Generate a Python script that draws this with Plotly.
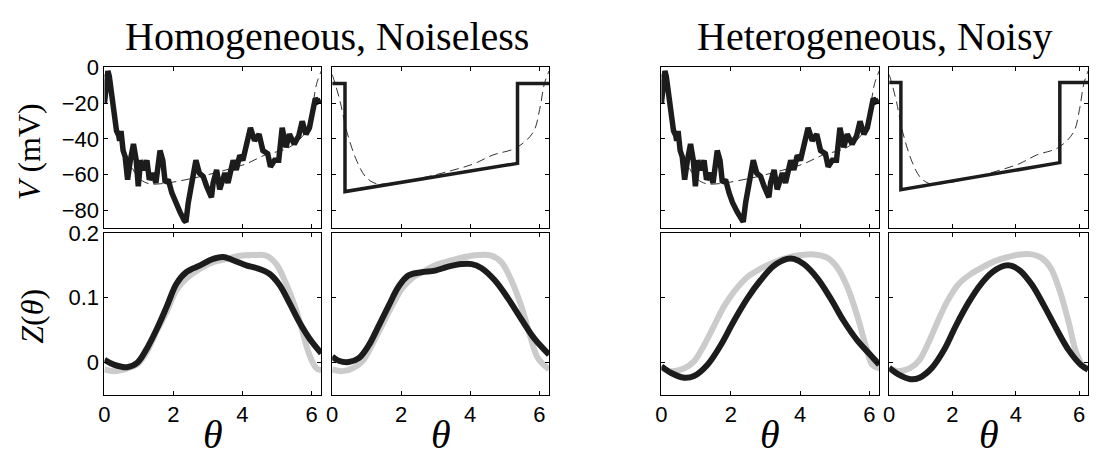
import math
import plotly.graph_objects as go

TWO_PI = 2 * math.pi

# ---------------- data ----------------
# noisy voltage trace (cols 1 and 3)
noisy_theta = [0.00, 0.05, 0.10, 0.14, 0.22, 0.29, 0.35, 0.41, 0.44, 0.48, 0.54, 0.60, 0.67, 0.75,
               0.84, 0.92, 0.98, 1.05, 1.13, 1.23, 1.30, 1.40, 1.49, 1.61, 1.69, 1.76, 1.85, 1.95,
               2.05, 2.19, 2.31, 2.36, 2.43, 2.50, 2.57, 2.65, 2.75, 2.86, 2.96, 3.05, 3.10, 3.15,
               3.25, 3.34, 3.49, 3.58, 3.73, 3.82, 3.92, 4.01, 4.11, 4.23, 4.35, 4.48, 4.59, 4.73,
               4.81, 4.93, 5.05, 5.15, 5.26, 5.36, 5.50, 5.63, 5.73, 5.84, 5.94, 6.03, 6.11, 6.18, 6.27]
noisy_v = [-20, -8, -2, -5, -15.6, -28.3, -35.6, -38, -41, -35.6, -46.5, -50, -62.8, -52,
           -42.9, -52, -66.5, -52, -57.4, -52, -62.8, -59.2, -64.6, -46.5, -52, -64.6, -62.8, -70.1,
           -75.6, -81, -85.6, -86.5, -75.6, -68.3, -59.2, -52, -59.2, -61, -66.5, -70, -72.7, -64.6,
           -57.4, -68.3, -59.2, -64.6, -52, -57.4, -49.2, -52, -44.7, -33.8, -41, -37.4, -46.5, -48.3,
           -55.6, -52, -52, -33.8, -44.7, -37.4, -42.9, -38.3, -30.2, -37.4, -33.8, -24.7, -17.4, -19.2, -18.3]

# thin dashed reference voltage
dash_theta = [0, 0.10, 0.24, 0.43, 0.72, 0.98, 1.27, 1.70, 2.16, 2.80, 3.50, 4.10, 4.66, 5.33,
              5.82, 6.01, 6.15, TWO_PI]
dash_v = [-4, -10, -20, -36.4, -52.7, -61.5, -65, -65, -63.6, -61, -57.5, -54, -49, -45,
          -36.4, -23.6, -9, -2]

# step-like voltage (cols 2 and 4)
step2_theta = [0, 0.37, 0.37, 5.37, 5.37, TWO_PI]
step2_v = [-9, -9, -69.5, -53.7, -9, -9]
step4_theta = [0, 0.37, 0.37, 5.39, 5.39, TWO_PI]
step4_v = [-8.5, -8.5, -68.5, -53.3, -8.5, -8.5]

# PRC curves
z1_black_t = [0.0, 0.27, 0.65, 0.94, 1.23, 1.52, 1.81, 2.09, 2.38, 2.77, 3.15, 3.44, 3.73, 4.11,
              4.40, 4.78, 5.07, 5.36, 5.65, 5.94, TWO_PI]
z1_black = [0.004, -0.0035, -0.0075, -0.001, 0.0216, 0.052, 0.087, 0.122, 0.140, 0.150, 0.160,
            0.163, 0.158, 0.150, 0.146, 0.137, 0.120, 0.092, 0.062, 0.037, 0.014]
z1_gray_t = [0.0, 0.27, 0.65, 0.94, 1.23, 1.52, 1.81, 2.09, 2.38, 2.77, 3.15, 3.54, 3.92, 4.30,
             4.69, 4.98, 5.26, 5.55, 5.74, 5.94, 6.13, TWO_PI]
z1_gray = [-0.011, -0.0135, -0.0095, -0.0035, 0.0166, 0.049, 0.079, 0.112, 0.130, 0.145, 0.155,
           0.160, 0.165, 0.166, 0.165, 0.152, 0.122, 0.082, 0.047, 0.0115, -0.0085, -0.0125]

z2_black_t = [0.0, 0.19, 0.48, 0.77, 1.06, 1.35, 1.63, 1.92, 2.21, 2.59, 2.98, 3.36, 3.75, 4.04,
              4.32, 4.71, 5.09, 5.48, 5.86, TWO_PI]
z2_black = [0.009, 0.0025, 0.0005, 0.0065, 0.0266, 0.057, 0.087, 0.117, 0.1345, 0.1395, 0.142,
            0.148, 0.152, 0.152, 0.146, 0.127, 0.0994, 0.0668, 0.0366, 0.012]
z2_gray_t = [0.0, 0.29, 0.58, 0.87, 1.15, 1.44, 1.73, 2.02, 2.31, 2.69, 3.07, 3.46, 3.84, 4.23,
             4.61, 4.90, 5.19, 5.48, 5.76, 5.96, TWO_PI]
z2_gray = [-0.011, -0.0135, -0.0095, 0.0015, 0.0266, 0.057, 0.087, 0.114, 0.130, 0.142, 0.152,
           0.158, 0.163, 0.166, 0.165, 0.155, 0.127, 0.087, 0.0366, 0.0065, -0.011]

z3_black_t = [0.0, 0.27, 0.65, 0.94, 1.33, 1.71, 2.09, 2.48, 2.86, 3.25, 3.63, 3.82, 4.11, 4.50,
              4.88, 5.26, 5.65, 6.03, TWO_PI]
z3_black = [-0.006, -0.016, -0.0236, -0.021, -0.0035, 0.0266, 0.064, 0.099, 0.127, 0.1496, 0.160,
            0.160, 0.152, 0.130, 0.099, 0.064, 0.034, 0.0115, -0.0035]
z3_gray_t = [0.0, 0.27, 0.65, 0.94, 1.23, 1.52, 1.81, 2.09, 2.48, 2.86, 3.25, 3.63, 4.02, 4.40,
             4.78, 5.07, 5.36, 5.65, 5.89, 6.08, TWO_PI]
z3_gray = [-0.0085, -0.0135, -0.0095, 0.0015, 0.0266, 0.057, 0.087, 0.109, 0.132, 0.145, 0.155,
           0.162, 0.166, 0.167, 0.162, 0.147, 0.117, 0.072, 0.0266, -0.0035, -0.0095]

z4_black_t = [0.0, 0.29, 0.67, 0.96, 1.35, 1.73, 2.11, 2.50, 2.88, 3.27, 3.65, 3.84, 4.13, 4.51,
              4.90, 5.28, 5.67, 6.05, TWO_PI]
z4_black = [-0.0085, -0.0186, -0.026, -0.0236, -0.0085, 0.019, 0.057, 0.092, 0.120, 0.140, 0.1496,
            0.1496, 0.142, 0.120, 0.087, 0.052, 0.019, -0.0035, -0.011]
z4_gray_t = [0.0, 0.29, 0.67, 0.96, 1.25, 1.54, 1.83, 2.21, 2.59, 2.98, 3.36, 3.75, 4.13, 4.51,
             4.80, 5.09, 5.38, 5.67, 5.90, 6.10, TWO_PI]
z4_gray = [-0.0085, -0.0135, -0.0085, 0.004, 0.0316, 0.064, 0.094, 0.122, 0.137, 0.148, 0.157,
           0.163, 0.167, 0.167, 0.162, 0.147, 0.112, 0.062, 0.0166, -0.0035, -0.0095]

x_ticks = [0, 2, 4, 6]
v_ticks = [0, -20, -40, -60, -80]
z_ticks = [0, 0.1, 0.2]
titles = ["Homogeneous, Noiseless", "Heterogeneous, Noisy"]

# ---------------- figure ----------------
W, H = 1105, 459
col_px = [(99, 317), (328, 546), (659, 878), (888, 1088)]
row_px = [(56, 222), (227, 393)]

BLACK = "#1c1c1c"
GRAY = "#cbcbcb"
TICKFONT = dict(family="Liberation Sans, Arial", size=22, color="black")

fig = go.Figure()


def axname(i):
    return "" if i == 1 else str(i)


n = 0
for r in range(2):
    for c in range(4):
        n += 1
        x0, x1 = col_px[c]
        y0, y1 = row_px[r]
        xa = dict(domain=[x0 / W, x1 / W], range=[0, TWO_PI], tickvals=x_ticks,
                  showticklabels=(r == 1), ticks="inside", ticklen=4, tickcolor="black",
                  showline=True, linecolor="black", linewidth=1, mirror="allticks",
                  showgrid=False, zeroline=False, anchor="y" + axname(n),
                  ticklabeloverflow="allow", tickfont=TICKFONT)
        if r == 0:
            yr, yt = [-90, 0.5], v_ticks
        else:
            yr, yt = [-0.05, 0.2], z_ticks
        ya = dict(domain=[1 - y1 / H, 1 - y0 / H], range=yr, tickvals=yt,
                  showticklabels=(c == 0), ticks="inside", ticklen=4, tickcolor="black",
                  showline=True, linecolor="black", linewidth=1, mirror="allticks",
                  showgrid=False, zeroline=False, anchor="x" + axname(n),
                  ticklabeloverflow="allow", tickfont=TICKFONT)
        fig.layout["xaxis" + axname(n)] = xa
        fig.layout["yaxis" + axname(n)] = ya

        xr, yref = "x" + axname(n), "y" + axname(n)
        if r == 0:
            fig.add_trace(go.Scatter(x=dash_theta, y=dash_v, mode="lines", xaxis=xr, yaxis=yref,
                                     line=dict(color=BLACK, width=0.9, dash="9px,5px", shape="spline"),
                                     showlegend=False))
            if c in (0, 2):
                fig.add_trace(go.Scatter(x=noisy_theta, y=noisy_v, mode="lines", xaxis=xr, yaxis=yref,
                                         line=dict(color=BLACK, width=5.5), showlegend=False))
            else:
                st, sv = (step2_theta, step2_v) if c == 1 else (step4_theta, step4_v)
                fig.add_trace(go.Scatter(x=st, y=sv, mode="lines", xaxis=xr, yaxis=yref,
                                         line=dict(color=BLACK, width=3.5), showlegend=False))
        else:
            gt, gv, bt, bv = [(z1_gray_t, z1_gray, z1_black_t, z1_black),
                              (z2_gray_t, z2_gray, z2_black_t, z2_black),
                              (z3_gray_t, z3_gray, z3_black_t, z3_black),
                              (z4_gray_t, z4_gray, z4_black_t, z4_black)][c]
            fig.add_trace(go.Scatter(x=gt, y=gv, mode="lines", xaxis=xr, yaxis=yref,
                                     line=dict(color=GRAY, width=6, shape="spline"), showlegend=False))
            fig.add_trace(go.Scatter(x=bt, y=bv, mode="lines", xaxis=xr, yaxis=yref,
                                     line=dict(color=BLACK, width=6, shape="spline"), showlegend=False))

annotations = []
serif = "Liberation Serif, Times New Roman, serif"
# titles
for i, t in enumerate(titles):
    cx = (col_px[2 * i][0] + col_px[2 * i + 1][1]) / 2
    annotations.append(dict(text=t, x=cx / W, y=1, xref="paper", yref="paper",
                            showarrow=False, xanchor="center", yanchor="top",
                            font=dict(family=serif, size=40, color="black")))
# theta labels
for c in range(4):
    cx = (col_px[c][0] + col_px[c][1]) / 2
    annotations.append(dict(text="<i>θ</i>", x=cx / W, y=0, xref="paper", yref="paper",
                            showarrow=False, xanchor="center", yanchor="bottom",
                            font=dict(family=serif, size=40, color="black")))
# y labels
annotations.append(dict(text="<i>V</i> (mV)", x=23 / W, y=1 - 143 / H, xref="paper", yref="paper",
                        showarrow=False, textangle=-90, xanchor="center", yanchor="middle",
                        font=dict(family=serif, size=32, color="black")))
annotations.append(dict(text="<i>Z</i>(<i>θ</i>)", x=26 / W, y=1 - 312 / H, xref="paper", yref="paper",
                        showarrow=False, textangle=-90, xanchor="center", yanchor="middle",
                        font=dict(family=serif, size=32, color="black")))

fig.update_layout(width=W, height=H, margin=dict(l=0, r=0, t=0, b=0),
                  paper_bgcolor="white", plot_bgcolor="white", annotations=annotations)

fig.write_html("out.html", config={"displayModeBar": False},
               post_script="document.body.style.margin='0';document.body.style.overflow='hidden';")
